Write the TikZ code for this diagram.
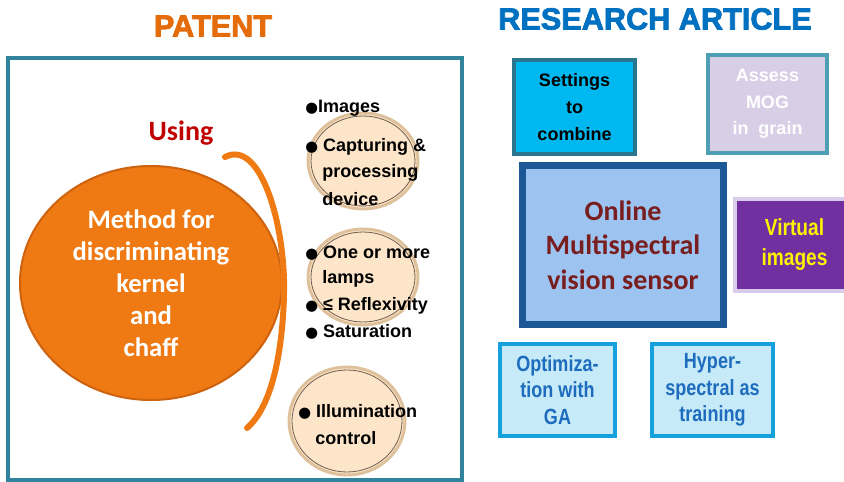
\documentclass[tikz,border=0pt]{standalone}
\usepackage{fontspec}
\setmainfont{Liberation Sans}
\newfontfamily\calfont{Carlito}
\newfontfamily\heavyfont[FakeBold=2.5]{Liberation Sans}
\newfontfamily\dotfont{DejaVu Sans}
\newfontfamily\narrowfont[FakeStretch=0.82]{Liberation Sans}
\usetikzlibrary{shapes.geometric, positioning, calc}
\definecolor{patorange}{RGB}{228,108,10}
\definecolor{resblue}{RGB}{0,112,192}
\definecolor{frameteal}{RGB}{49,132,155}
\definecolor{discorange}{RGB}{239,121,18}
\definecolor{discedge}{RGB}{205,98,15}
\definecolor{usingred}{RGB}{192,0,0}
\definecolor{peach}{RGB}{252,229,201}
\definecolor{ringtan}{RGB}{222,192,155}
\definecolor{ringdark}{RGB}{110,92,75}
\definecolor{settfill}{RGB}{0,184,240}
\definecolor{settedge}{RGB}{42,118,142}
\definecolor{assfill}{RGB}{216,206,230}
\definecolor{assedge}{RGB}{78,158,180}
\definecolor{sensfill}{RGB}{157,195,240}
\definecolor{sensedge}{RGB}{28,88,150}
\definecolor{senstext}{RGB}{120,30,30}
\definecolor{virtfill}{RGB}{112,48,160}
\definecolor{virtedge}{RGB}{218,202,236}
\definecolor{trainfill}{RGB}{198,234,248}
\definecolor{trainedge}{RGB}{22,160,220}
\definecolor{traintext}{RGB}{30,108,190}
\newcommand{\dotmark}{{\dotfont\fontsize{11}{11}\selectfont ●}}

\begin{document}
\begin{tikzpicture}[x=0.75pt,y=-0.75pt,
  title/.style={font=\heavyfont\bfseries\fontsize{23}{26}\selectfont},
  disc/.style={ellipse,fill=discorange,draw=discedge,line width=1.5pt,
    text=white,align=center,font=\calfont\bfseries\fontsize{20}{24}\selectfont},
  ring/.style={ellipse,fill=peach,draw=ringtan,line width=2.2pt,
    minimum width=82.5pt,minimum height=72pt},
  ringin/.style={ellipse,draw=ringdark,line width=0.6pt,
    minimum width=78pt,minimum height=67.5pt},
  item/.style={anchor=west,inner sep=0pt,font=\bfseries\fontsize{13.5}{16}\selectfont},
  box/.style={rectangle,align=center,line width=3pt},
  plainbox/.style={box,font=\bfseries\fontsize{13.5}{20}\selectfont},
  narrowbox/.style={box,font=\narrowfont\bfseries\fontsize{16.5}{20}\selectfont}]
\useasboundingbox (0,0) rectangle (844,482);

% Titles
\node[title,text=patorange] (patent) at (213,26) {PATENT};
\node[title,text=resblue] (research) at (655,19) {RESEARCH ARTICLE};

% Patent frame
\draw[frameteal,line width=3pt] (8,58) rectangle (462,480);

% Method disc and bracket
\node[disc,minimum width=196.5pt,minimum height=175.5pt] (method) at (151,283)
  {Method for\\discriminating\\kernel\\and\\chaff};
\node[text=usingred,font=\calfont\bfseries\fontsize{21}{24}\selectfont] (using) at (181,133) {Using};
\draw[discorange,line width=4.5pt,line cap=round]
  (225,157) .. controls (262,138) and (286,230) .. (284,295)
  .. controls (282,365) and (268,410) .. (247,428);

% Peach rings
\foreach \n/\x/\y in {cap/363/161, lamp/363/277} {
  \node[ring] (\n) at (\x,\y) {};
  \node[ringin] (\n in) at (\x,\y) {};
}
\node[ring,minimum width=87pt,minimum height=81pt] (illum) at (347,421) {};
\node[ringin,minimum width=82.5pt,minimum height=76.5pt] (illum in) at (347,421) {};

% Bullet lines
\foreach \i/\x/\y/\t in {1/305/108/{\dotmark Images}, 2/305/147/{\dotmark\ Capturing \&},
  3/322/173/processing, 4/322/199/device, 5/305/253/{\dotmark\ One or more},
  6/322/279/lamps, 7/305/306/{\dotmark\ ≤ Reflexivity}, 8/305/332/{\dotmark\ Saturation},
  9/298/412/{\dotmark\ Illumination}, 10/315/438/control} {
  \node[item] (b\i) at (\x,\y) {\t};
}

% Research article boxes
\node[plainbox,fill=settfill,draw=settedge,minimum width=90.75pt,minimum height=70.5pt]
  (settings) at (574.5,107) {Settings\\to\\combine};
\node[plainbox,fill=assfill,draw=assedge,text=white,minimum width=89.25pt,minimum height=73.5pt]
  (assess) at (767.5,104) {Assess\\MOG\\in~~grain};
\node[box,fill=sensfill,draw=sensedge,line width=5pt,text=senstext,
  font=\calfont\bfseries\fontsize{21}{26}\selectfont,minimum width=150.75pt,minimum height=119.25pt]
  (sensor) at (623,245) {Online\\Multispectral\\vision sensor};
\node[box,fill=virtfill,draw=virtedge,text=yellow,
  font=\narrowfont\bfseries\fontsize{17.5}{22.5}\selectfont,minimum width=89.25pt,minimum height=69pt]
  (virtual) at (794.5,245) {Virtual\\images};
\node[narrowbox,fill=trainfill,draw=trainedge,text=traintext,minimum width=86.25pt,minimum height=69pt]
  (optim) at (557.5,390) {Optimiza-\\tion with\\GA};
\node[narrowbox,fill=trainfill,draw=trainedge,text=traintext,minimum width=90.75pt,minimum height=69pt]
  (hyper) at (712.5,390) {Hyper-\\spectral as\\training};
\end{tikzpicture}
\end{document}
